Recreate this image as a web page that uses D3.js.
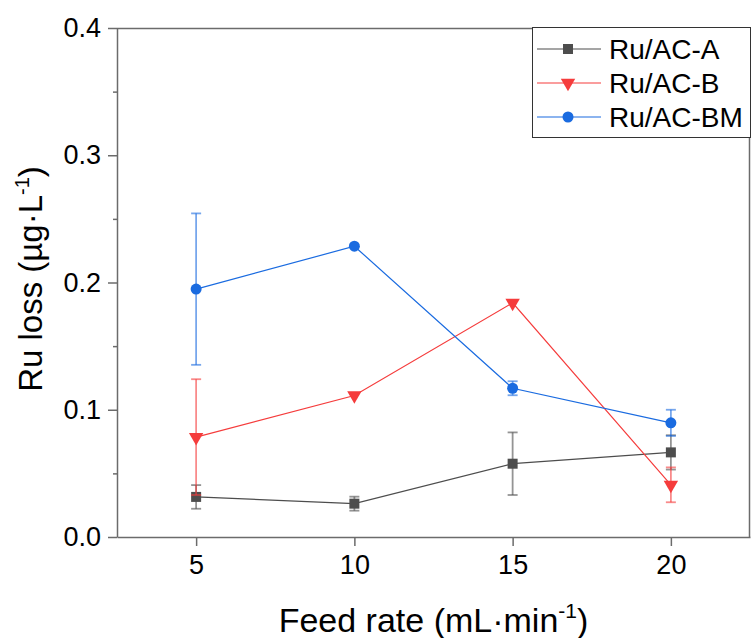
<!DOCTYPE html>
<html>
<head>
<meta charset="utf-8">
<script src="https://cdn.jsdelivr.net/npm/d3@7"></script>
<style>
  html, body { margin: 0; padding: 0; background: #fff; }
  svg { display: block; font-family: "Liberation Sans", Arial, sans-serif; }
</style>
</head>
<body>
<svg id="chart" width="751" height="638"></svg>
<script>
// Feed rates (mL/min)
const feedRates = [5, 10, 15, 20];

// Ru loss (µg/L) per catalyst, with error bar half-widths
const seriesNames = ["Ru/AC-A", "Ru/AC-B", "Ru/AC-BM"];
const lossA = [0.0315, 0.0262, 0.0576, 0.0665];
const errA = [0.0093, 0.0055, 0.0246, 0.0135];
const lossB = [0.0785, 0.1112, 0.1840, 0.0410];
const errB = [0.0455, 0.0, 0.0, 0.0137];
const lossBM = [0.1948, 0.2285, 0.1169, 0.0897];
const errBM = [0.0595, 0.0, 0.0055, 0.0103];

const xTicks = [5, 10, 15, 20];
const yTicks = [0.0, 0.1, 0.2, 0.3, 0.4];
const yMinorTicks = [0.05, 0.15, 0.25, 0.35];

const colors = ["#4d4d4d", "#f53c3c", "#1a6be0"];
const symbols = [d3.symbolSquare, d3.symbolTriangle, d3.symbolCircle];
const symbolSizes = [100, 90, 95];

const series = [
  { name: seriesNames[0], values: lossA, errs: errA },
  { name: seriesNames[1], values: lossB, errs: errB },
  { name: seriesNames[2], values: lossBM, errs: errBM }
];

const svg = d3.select("#chart");
const margin = { left: 117, top: 28, right: 1, bottom: 101 };
const W = 751 - margin.left - margin.right;
const H = 638 - margin.top - margin.bottom;

const x = d3.scaleLinear().domain([2.5, 22.5]).range([0, W]);
const y = d3.scaleLinear().domain([0, 0.4]).range([H, 0]);

const g = svg.append("g").attr("transform", `translate(${margin.left},${margin.top})`);
const axisColor = "#6b6b6b";

// frame (top and right edges)
g.append("path")
  .attr("d", `M0,0.5H${W - 0.5}V${H}`)
  .attr("fill", "none").attr("stroke", axisColor).attr("stroke-width", 1.5);

// y axis
const yAxis = g.append("g")
  .call(d3.axisLeft(y).tickValues(yTicks).tickFormat(d3.format(".1f"))
    .tickSize(9).tickSizeOuter(0).tickPadding(7));
const yMinor = g.append("g")
  .call(d3.axisLeft(y).tickValues(yMinorTicks).tickFormat("").tickSize(4).tickSizeOuter(0));
yMinor.select(".domain").remove();

// x axis
const xAxis = g.append("g").attr("transform", `translate(0,${H})`)
  .call(d3.axisBottom(x).tickValues(xTicks).tickFormat(d3.format("d"))
    .tickSize(9).tickSizeOuter(0).tickPadding(9));

[yAxis, yMinor, xAxis].forEach(a => {
  a.selectAll(".domain").attr("stroke", axisColor).attr("stroke-width", 1.5);
  a.selectAll(".tick line").attr("stroke", axisColor).attr("stroke-width", 1.5);
  a.selectAll(".tick text").attr("fill", "#000").style("font-size", "27px")
    .style("font-family", "'Liberation Sans', Arial, sans-serif");
});

// axis titles
const xt = svg.append("text")
  .attr("x", margin.left + W / 2).attr("y", 632)
  .attr("text-anchor", "middle").style("font-size", "34px").attr("fill", "#000");
xt.append("tspan").text("Feed rate (mL·min");
xt.append("tspan").attr("dy", -14).style("font-size", "21px").text("-1");
xt.append("tspan").attr("dy", 14).text(")");

const yt = svg.append("text")
  .attr("transform", `translate(42,279) rotate(-90)`)
  .attr("text-anchor", "middle").style("font-size", "33px").attr("fill", "#000");
yt.append("tspan").text("Ru loss (µg·L");
yt.append("tspan").attr("dy", -13).style("font-size", "20px").text("-1");
yt.append("tspan").attr("dy", 13).text(")");

// series: lines, error bars, markers
const line = d3.line().x(d => x(d[0])).y(d => y(d[1]));

series.forEach((s, i) => {
  const pts = feedRates.map((f, j) => [f, s.values[j], s.errs[j]]);
  const sg = g.append("g");
  sg.append("path").datum(pts).attr("d", line)
    .attr("fill", "none").attr("stroke", colors[i]).attr("stroke-width", 1.2);

  const eb = sg.selectAll(".eb").data(pts.filter(p => p[2] > 0)).enter().append("g")
    .attr("stroke", colors[i]).attr("stroke-opacity", 0.6).attr("stroke-width", 1.8);
  eb.append("line").attr("x1", d => x(d[0])).attr("x2", d => x(d[0]))
    .attr("y1", d => y(d[1] - d[2])).attr("y2", d => y(d[1] + d[2]));
  eb.append("line").attr("x1", d => x(d[0]) - 5).attr("x2", d => x(d[0]) + 5)
    .attr("y1", d => y(d[1] + d[2])).attr("y2", d => y(d[1] + d[2]));
  eb.append("line").attr("x1", d => x(d[0]) - 5).attr("x2", d => x(d[0]) + 5)
    .attr("y1", d => y(d[1] - d[2])).attr("y2", d => y(d[1] - d[2]));

  sg.selectAll(".mk").data(pts).enter().append("path")
    .attr("d", d3.symbol().type(symbols[i]).size(symbolSizes[i]))
    .attr("transform", d => `translate(${x(d[0])},${y(d[1])})${i === 1 ? " rotate(180)" : ""}`)
    .attr("fill", colors[i]);
});

// legend
const lg = svg.append("g").attr("transform", "translate(532,27)");
lg.append("rect").attr("x", 0.5).attr("y", 0.5).attr("width", 218).attr("height", 110)
  .attr("fill", "#fff").attr("stroke", "#333").attr("stroke-width", 1);
series.forEach((s, i) => {
  const cy = 22 + i * 34;
  lg.append("line").attr("x1", 5).attr("x2", 69).attr("y1", cy).attr("y2", cy)
    .attr("stroke", colors[i]).attr("stroke-width", 1.2);
  lg.append("path")
    .attr("d", d3.symbol().type(symbols[i]).size(symbolSizes[i]))
    .attr("transform", `translate(36,${cy})${i === 1 ? " rotate(180)" : ""}`)
    .attr("fill", colors[i]);
  lg.append("text").attr("x", 77).attr("y", cy + 10).style("font-size", "28px")
    .attr("fill", "#000").text(s.name);
});
</script>
</body>
</html>
